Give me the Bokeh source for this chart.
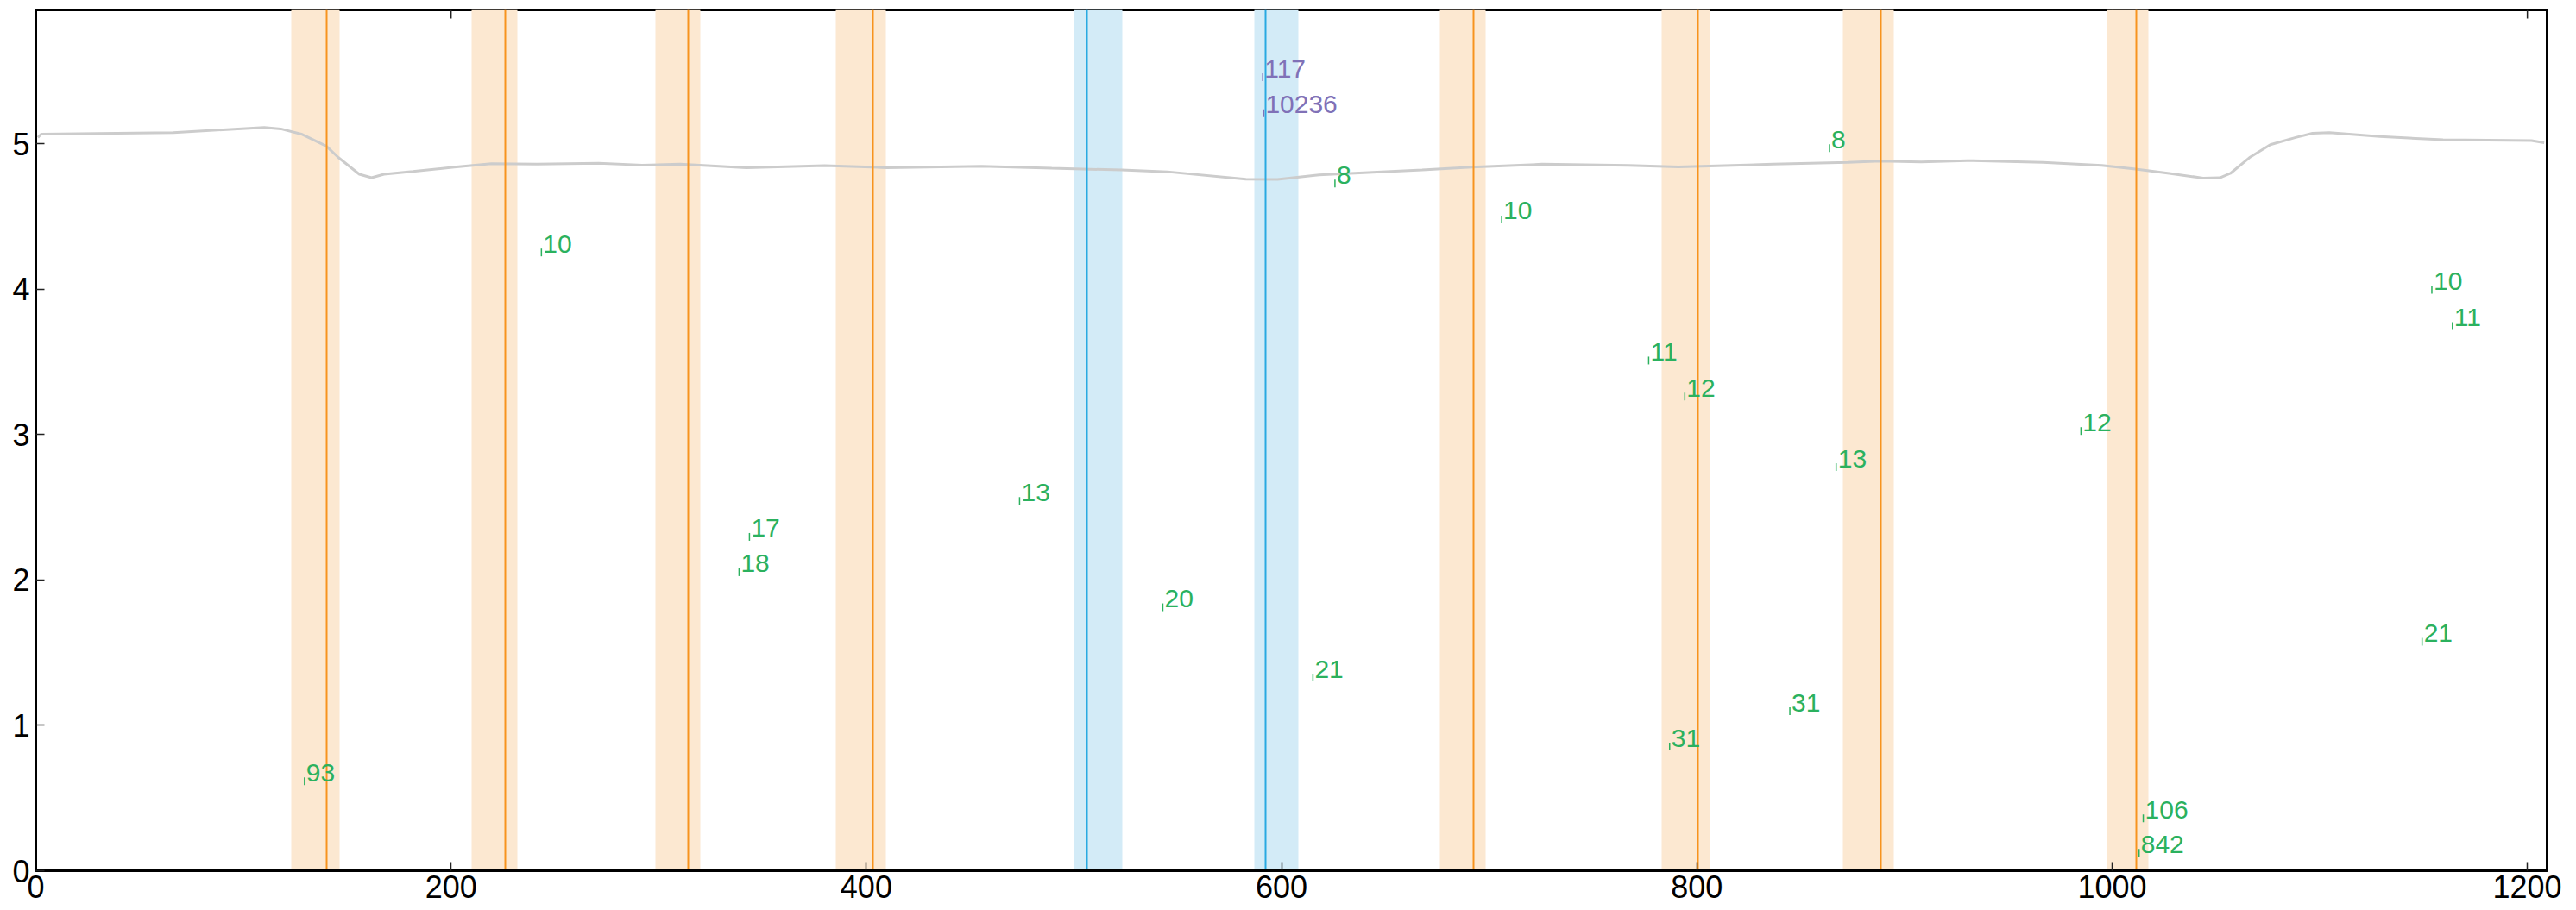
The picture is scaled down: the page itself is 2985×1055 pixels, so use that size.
import math
from bokeh.plotting import figure
from bokeh.models import Range1d, FixedTicker, ColumnDataSource, Label
from bokeh.core.properties import value
from bokeh.embed import file_html
from bokeh.resources import INLINE

# ---- data ----
x_ticks = [0, 200, 400, 600, 800, 1000, 1200]
y_ticks = [0, 1, 2, 3, 4, 5]

trace_x = [1.0, 2.6, 66.3, 110.0, 118.0, 127.9, 139.9, 145.8, 155.8, 161.7, 167.7, 181.6,
           201.5, 219.4, 241.3, 271.1, 292.0, 310.3, 342.2, 379.9, 409.8, 455.5, 489.3,
           523.1, 545.0, 582.8, 598.0, 618.0, 667.7, 691.6, 725.4, 767.2, 791.1, 836.8,
           872.6, 888.5, 908.0, 930.2, 966.7, 995.1, 1011.3, 1027.5, 1043.8, 1051.9,
           1057.0, 1066.1, 1076.2, 1088.4, 1096.5, 1104.6, 1129.0, 1159.4, 1202.0, 1208.1]
trace_y = [5.043, 5.066, 5.076, 5.112, 5.102, 5.066, 4.983, 4.904, 4.790, 4.766, 4.790, 4.809,
           4.839, 4.863, 4.859, 4.865, 4.853, 4.859, 4.835, 4.849, 4.835, 4.845, 4.831,
           4.819, 4.807, 4.756, 4.755, 4.786, 4.819, 4.839, 4.859, 4.851, 4.841, 4.859,
           4.871, 4.880, 4.874, 4.884, 4.871, 4.851, 4.825, 4.796, 4.764, 4.766,
           4.796, 4.904, 4.993, 5.043, 5.072, 5.076, 5.049, 5.027, 5.021, 5.007]

orange_lines = [140.0, 226.0, 314.1, 403.2, 692.4, 800.4, 888.5, 1011.5]
orange_band_left = [123.2, 210.0, 298.4, 385.3, 676.3, 783.1, 870.4, 997.5]
orange_band_right = [146.2, 231.9, 320.2, 409.2, 698.2, 806.4, 894.7, 1017.6]

blue_lines = [506.2, 592.3]
blue_band_left = [500.0, 586.8]
blue_band_right = [523.1, 608.1]

green_x = [129.4, 243.5, 338.7, 343.7, 473.8, 542.8, 615.1, 625.7, 706.0, 776.8, 786.9,
           794.2, 844.8, 863.9, 867.1, 985.0, 1013.0, 1015.0, 1149.3, 1154.0, 1163.9]
green_y = [0.616, 4.252, 2.053, 2.296, 2.543, 1.812, 1.328, 4.726, 4.479, 3.509, 0.854,
           3.261, 1.097, 4.969, 2.776, 3.024, 0.123, 0.360, 1.575, 3.995, 3.746]
green_text = ["93", "10", "18", "17", "13", "20", "21", "8", "10", "11", "31",
              "12", "31", "8", "13", "12", "842", "106", "21", "10", "11"]

purple_x = [590.9, 591.4]
purple_y = [5.457, 5.210]
purple_text = ["117", "10236"]

title_text = "_"
title_x = 744.7

X_MIN, X_MAX = 0, 1209.5
Y_MIN, Y_MAX = 0, 5.92

# ---- style / layout ----
FONT = "Liberation Sans"
ORANGE = "#f7931e"
ORANGE_BAND = "#fce8d1"
BLUE = "#29a9e1"
BLUE_BAND = "#d3ebf7"
GREEN = "#2bb15e"
PURPLE = "#8071b7"

W, H = 2968, 1055
B_LEFT, B_RIGHT, B_TOP, B_BOTTOM = 41, 17, 11, 46
FRAME_H = H - B_TOP - B_BOTTOM
TICK_PX = 10

p = figure(width=W, height=H,
           x_range=Range1d(X_MIN, X_MAX), y_range=Range1d(Y_MIN, Y_MAX),
           output_backend="svg", toolbar_location=None,
           min_border_left=B_LEFT, min_border_top=B_TOP,
           min_border_right=B_RIGHT, min_border_bottom=B_BOTTOM)

p.xgrid.visible = False
p.ygrid.visible = False
p.outline_line_color = "black"
p.outline_line_width = 3
p.background_fill_color = "white"
p.border_fill_color = "white"

for ax, ticks in ((p.xaxis[0], x_ticks), (p.yaxis[0], y_ticks)):
    ax.ticker = FixedTicker(ticks=ticks)
    ax.major_tick_in = TICK_PX
    ax.major_tick_out = 0
    ax.minor_tick_line_color = None
    ax.major_tick_line_color = "#222222"
    ax.major_tick_line_width = 1.5
    ax.axis_line_color = "black"
    ax.axis_line_width = 3
    ax.major_label_text_font = FONT
    ax.major_label_text_font_size = "36px"
    ax.major_label_text_color = "black"
p.xaxis[0].major_label_standoff = 5
p.yaxis[0].major_label_standoff = 7

# mirrored ticks along the top edge
tick_len = TICK_PX * (Y_MAX - Y_MIN) / FRAME_H
p.segment(x0=x_ticks, x1=x_ticks, y0=[Y_MAX] * len(x_ticks),
          y1=[Y_MAX - tick_len] * len(x_ticks), line_color="#222222", line_width=1.5)

# bands
p.vstrip(x0=orange_band_left, x1=orange_band_right, fill_color=ORANGE_BAND, line_color=None)
p.vstrip(x0=blue_band_left, x1=blue_band_right, fill_color=BLUE_BAND, line_color=None)

# grey trace
p.line(trace_x, trace_y, line_color="#cccccc", line_width=3)

# vertical lines
p.vspan(x=orange_lines, line_color=ORANGE, line_width=2)
p.vspan(x=blue_lines, line_color=BLUE, line_width=2)

# labelled points
gsrc = ColumnDataSource(dict(x=green_x, y=green_y, t=green_text))
psrc = ColumnDataSource(dict(x=purple_x, y=purple_y, t=purple_text))
for src, col in ((gsrc, GREEN), (psrc, PURPLE)):
    p.scatter("x", "y", source=src, marker="dash", angle=math.pi / 2, size=9,
              line_color=col, line_width=1.5)
    p.text("x", "y", text="t", source=src, text_font=value(FONT), text_font_size="30px",
           text_color=col, text_align="left", text_baseline="alphabetic",
           x_offset=2, y_offset=-10)

# the (clipped) title above the frame, of which only "_" shows
p.add_layout(Label(x=title_x, y=Y_MAX, text=title_text, text_font=FONT,
                   text_font_size="48px", text_color="black", text_align="center",
                   text_baseline="alphabetic", y_offset=27))

open("out.html", "w").write(file_html(p, INLINE))
